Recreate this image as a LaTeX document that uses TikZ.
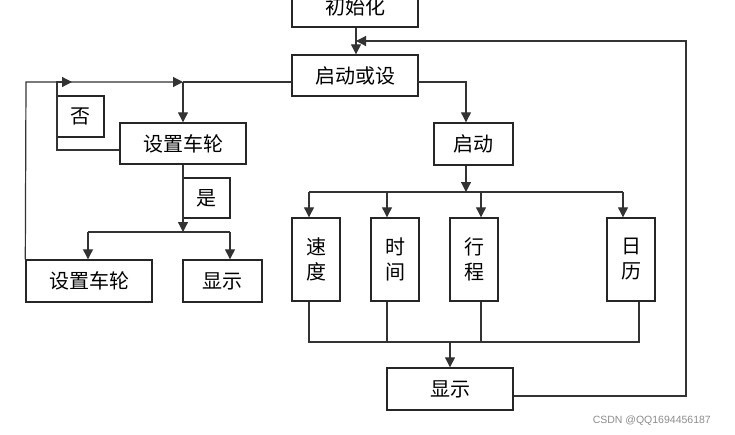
\documentclass[tikz,border=0pt]{standalone}
\usepackage{fontspec}
\setmainfont{Noto Sans CJK SC}
\newfontfamily\wmfont{Liberation Sans}
\usetikzlibrary{arrows.meta}
\begin{document}
\begin{tikzpicture}[x=1pt,y=-1pt,
  box/.style={draw=black!85, line width=1.4pt, inner sep=0pt, fill=white,
    font=\fontsize{20}{25}\selectfont, align=center},
  conn/.style={draw=black!80, line width=1.2pt},
  arr/.style={conn, -{Triangle[length=10pt,width=10pt]}}]
\useasboundingbox (0,0) rectangle (735,434);
\clip (0,0) rectangle (735,434);
% boxes
\node[box, minimum width=126pt, minimum height=41pt] (init) at (355,6.5) {初始化};
\node[box, minimum width=126pt, minimum height=41pt] (qd) at (355,75.5) {启动或设};
\node[box, minimum width=79pt, minimum height=42pt] (qidong) at (473.5,144) {启动};
\node[box, minimum width=48pt, minimum height=83pt] (sd) at (316,259.5) {速\\度};
\node[box, minimum width=48pt, minimum height=83pt] (sj) at (395,259.5) {时\\间};
\node[box, minimum width=48pt, minimum height=83pt] (xc) at (474,259.5) {行\\程};
\node[box, minimum width=48pt, minimum height=83pt] (rl) at (631,259.5) {日\\历};
\node[box, minimum width=126pt, minimum height=42pt] (xs2) at (450,389) {显示};
\node[box, minimum width=47pt, minimum height=41pt] (fou) at (80.5,116.5) {否};
\node[box, minimum width=126pt, minimum height=41pt] (sz1) at (183,143.5) {设置车轮};
\node[box, minimum width=47pt, minimum height=40pt] (shi) at (206.5,198) {是};
\node[box, minimum width=126pt, minimum height=42pt] (sz2) at (89,281) {设置车轮};
\node[box, minimum width=79pt, minimum height=42pt] (xs1) at (222.5,281) {显示};
% coordinates
\coordinate (rtop) at (686,41);
\coordinate (rbot) at (686,396);
\coordinate (mtop) at (356,41);
\coordinate (qdR) at (418,82);
\coordinate (qdL) at (292,82);
\coordinate (jR) at (466,82);
\coordinate (jL) at (183,82);
\coordinate (lcorner) at (26,82);
\coordinate (fcorner) at (57,82);
\coordinate (fbot) at (57,150);
\coordinate (ftip) at (72,82);
\coordinate (bus1) at (466,192);
\coordinate (bus2) at (183,232);
\coordinate (low) at (450,342);
% top part
\draw[arr] (init.south -| 356,0) -- (qd.north -| 356,0);
\draw[arr] ([yshift=-7pt]xs2.east) -- (rbot) -- (rtop) -- (mtop);
\draw[arr] (qdR) -- (jR) -- (qidong.north -| jR);
\draw[arr] (qidong.south -| bus1) -- (bus1);
\draw[conn] (309,192) -- (623,192);
\draw[arr] (309,192) -- (sd.north -| 309,0);
\draw[arr] (387,192) -- (sj.north -| 387,0);
\draw[arr] (481,192) -- (xc.north -| 481,0);
\draw[arr] (623,192) -- (rl.north -| 623,0);
\draw[conn] (sd.south -| 309,0) -- (309,342) -- (639,342) -- (rl.south -| 639,0);
\draw[conn] (sj.south -| 387,0) -- (387,342);
\draw[conn] (xc.south -| 481,0) -- (481,342);
\draw[arr] (low) -- (xs2.north -| low);
% left part
\draw[arr] (sz2.north west) -- (lcorner) -- (jL);
\draw[conn] (qdL) -- (jL);
\draw[arr] (jL) -- (sz1.north);
\draw[arr] (sz1.west |- fbot) -- (fbot) -- (fcorner) -- (ftip);
\draw[arr] (sz1.south) -- (bus2);
\draw[conn] (88,232) -- (230,232);
\draw[arr] (88,232) -- (sz2.north -| 88,0);
\draw[arr] (230,232) -- (xs1.north -| 230,0);
% watermark
\node[font=\wmfont\fontsize{10.5}{12}\selectfont, text=black!45, anchor=east, inner sep=0pt] (wm) at (711,421) {CSDN @QQ1694456187};
\end{tikzpicture}
\end{document}
